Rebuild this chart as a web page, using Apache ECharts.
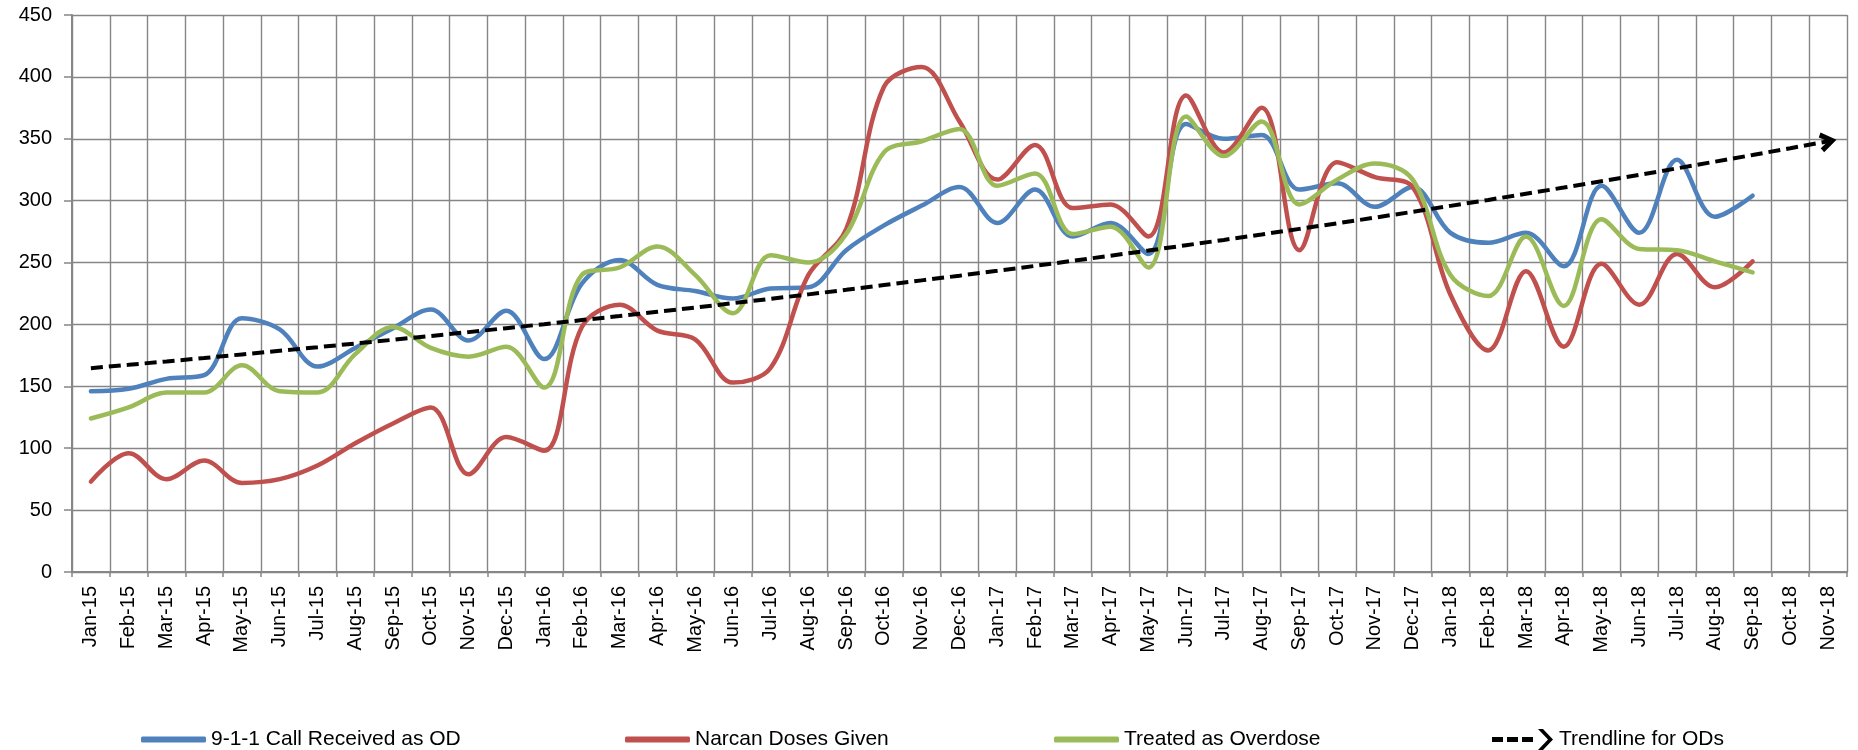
<!DOCTYPE html>
<html>
<head>
<meta charset="utf-8">
<title>Overdose calls</title>
<script src="https://cdn.jsdelivr.net/npm/echarts@6/dist/echarts.min.js"></script>
<style>
    html, body { margin: 0; padding: 0; background: #fff; }
    #chart_od { width: 1858px; height: 750px; }
</style>
</head>
<body>
<div id="chart_od"></div>
<script>
'use strict';

var months = ['Jan-15', 'Feb-15', 'Mar-15', 'Apr-15', 'May-15', 'Jun-15', 'Jul-15', 'Aug-15', 'Sep-15', 'Oct-15', 'Nov-15', 'Dec-15',
    'Jan-16', 'Feb-16', 'Mar-16', 'Apr-16', 'May-16', 'Jun-16', 'Jul-16', 'Aug-16', 'Sep-16', 'Oct-16', 'Nov-16', 'Dec-16',
    'Jan-17', 'Feb-17', 'Mar-17', 'Apr-17', 'May-17', 'Jun-17', 'Jul-17', 'Aug-17', 'Sep-17', 'Oct-17', 'Nov-17', 'Dec-17',
    'Jan-18', 'Feb-18', 'Mar-18', 'Apr-18', 'May-18', 'Jun-18', 'Jul-18', 'Aug-18', 'Sep-18', 'Oct-18', 'Nov-18'];

var callsOD = [146, 148, 156, 159, 205, 196, 166, 181, 197, 212, 187, 211,
    172, 233, 252, 232, 227, 221, 229, 230, 260, 280, 296, 311,
    282, 309, 271, 282, 257, 362, 350, 353, 309, 314, 295, 311,
    274, 266, 274, 247, 312, 274, 333, 287, 304];

var narcanDoses = [73, 96, 75, 90, 72, 75, 86, 104, 120, 133, 79, 109,
    98, 198, 216, 195, 188, 153, 165, 240, 277, 392, 408, 364,
    317, 345, 294, 297, 271, 385, 339, 375, 260, 331, 319, 311,
    224, 179, 243, 182, 249, 216, 257, 230, 251];

var treatedOD = [124, 133, 145, 145, 167, 146, 145, 176, 198, 181, 174, 182,
    149, 240, 246, 263, 240, 209, 256, 250, 273, 339, 348, 358,
    312, 322, 273, 279, 246, 368, 336, 364, 297, 317, 330, 317,
    240, 223, 271, 215, 285, 261, 260, 251, 242];

var trendOD = [164.7, 167.4, 170.1, 172.9, 175.8, 178.7, 181.6, 184.6, 187.6, 190.7, 193.8, 197.0,
    200.2, 203.5, 206.8, 210.2, 213.6, 217.2, 220.7, 224.3, 228.0, 231.8, 235.6, 239.4,
    243.3, 247.3, 251.4, 255.5, 259.7, 264.0, 268.3, 272.7, 277.2, 281.7, 286.3, 291.0,
    295.8, 300.6, 305.6, 310.6, 315.7, 320.8, 326.1, 331.5, 336.9, 342.4, 348.0];

var yTicks = { min: 0, max: 450, interval: 50 };

var fontName = '"Liberation Sans", Arial, sans-serif';
var gridColor = '#868686';

// 图例上的趋势线图标：三段虚线加一个箭头
var trendIcon = 'path://M0,8h11v5h-11z M15,8h11v5h-11z M30,8h11v5h-11z M46,0L51,0L61,10.5L51,21L46,21L56,10.5Z';

var chart_od = echarts.init(document.getElementById('chart_od'));

function oneLegend(name, left, icon) {
    var isTrend = icon === trendIcon;
    return {
        data: [name],
        left: left,
        top: 724,
        icon: icon,
        itemWidth: isTrend ? 63 : 65,
        itemHeight: isTrend ? 21 : 6,
        itemGap: 5,
        textStyle: {
            color: '#000',
            fontSize: 21,
            fontFamily: fontName,
            padding: [0, 0, 0, 0]
        }
    };
}

function lineSeries(name, color, data) {
    return {
        name: name,
        type: 'line',
        data: data,
        smooth: 0.35,
        symbol: 'none',
        lineStyle: {
            color: color,
            width: 4.5,
            cap: 'round'
        },
        itemStyle: {
            color: color
        }
    };
}

var option = {
    animation: false,
    backgroundColor: '#fff',
    legend: [
        oneLegend('9-1-1 Call Received as OD', 136, 'roundRect'),
        oneLegend('Narcan Doses Given', 620, 'roundRect'),
        oneLegend('Treated as Overdose', 1049, 'roundRect'),
        oneLegend('Trendline for ODs', 1487, trendIcon)
    ],
    grid: {
        left: 72,
        right: 11,
        top: 15,
        bottom: 178,
        containLabel: false
    },
    xAxis: [{
        type: 'category',
        data: months,
        boundaryGap: true,
        axisLine: {
            show: true,
            lineStyle: { color: gridColor, width: 2 }
        },
        axisTick: {
            show: true,
            length: 5,
            lineStyle: { color: gridColor, width: 1.5 }
        },
        axisLabel: {
            interval: 0,
            rotate: 90,
            margin: 14,
            color: '#000',
            fontSize: 20,
            fontFamily: fontName
        },
        splitLine: {
            show: true,
            interval: 0,
            lineStyle: { color: gridColor, width: 1.4 }
        }
    }],
    yAxis: [{
        type: 'value',
        min: yTicks.min,
        max: yTicks.max,
        interval: yTicks.interval,
        axisLine: {
            show: true,
            lineStyle: { color: gridColor, width: 2 }
        },
        axisTick: {
            show: true,
            length: 8,
            lineStyle: { color: gridColor, width: 1.5 }
        },
        axisLabel: {
            margin: 20,
            color: '#000',
            fontSize: 20,
            fontFamily: fontName
        },
        splitLine: {
            show: true,
            lineStyle: { color: gridColor, width: 1.4 }
        }
    }],
    series: [
        lineSeries('9-1-1 Call Received as OD', '#4F81BD', callsOD),
        lineSeries('Narcan Doses Given', '#C0504D', narcanDoses),
        lineSeries('Treated as Overdose', '#9BBB59', treatedOD),
        {
            name: 'Trendline for ODs',
            type: 'line',
            data: trendOD,
            smooth: false,
            symbol: 'none',
            z: 5,
            lineStyle: {
                color: '#000',
                width: 4,
                type: [12, 6]
            },
            itemStyle: {
                color: '#000'
            },
            // 末端箭头，沿最后一段的方向
            markLine: {
                silent: true,
                animation: false,
                symbol: ['none', 'path://M0,11L5.5,0L11,11L8.5,13L5.5,6.5L2.5,13Z'],
                symbolSize: [20, 17],
                label: { show: false },
                lineStyle: {
                    color: '#000',
                    width: 0,
                    type: 'solid'
                },
                data: [
                    [
                        { coord: [months[45], trendOD[45]] },
                        { coord: [months[46], trendOD[46]] }
                    ]
                ]
            }
        }
    ]
};

chart_od.setOption(option);
</script>
</body>
</html>
